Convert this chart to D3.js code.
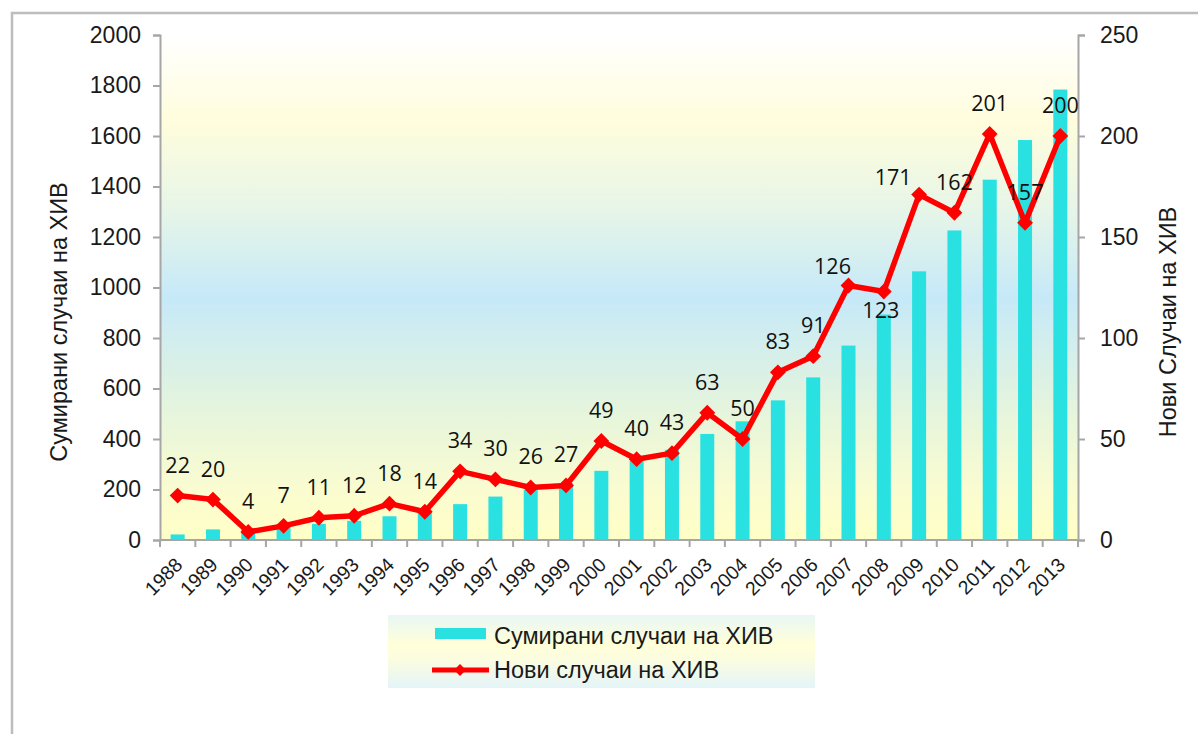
<!DOCTYPE html>
<html><head><meta charset="utf-8">
<script src="https://cdn.jsdelivr.net/npm/d3@7"></script>
<style>html,body{margin:0;padding:0;background:#fff;}svg{display:block;}</style>
</head><body>
<svg id="c" width="1198" height="734"></svg>
<script>
const years = ["1988","1989","1990","1991","1992","1993","1994","1995","1996","1997","1998","1999","2000","2001","2002","2003","2004","2005","2006","2007","2008","2009","2010","2011","2012","2013"];
const cumulative = [22,42,46,53,64,76,94,108,142,172,198,225,274,314,357,420,470,553,644,770,893,1064,1226,1427,1584,1784];
const newCases = [22,20,4,7,11,12,18,14,34,30,26,27,49,40,43,63,50,83,91,126,123,171,162,201,157,200];
const leftTicks = [0,200,400,600,800,1000,1200,1400,1600,1800,2000];
const rightTicks = [0,50,100,150,200,250];
const leftTitle = "Сумирани случаи на ХИВ";
const rightTitle = "Нови Случаи на ХИВ";
const legendItems = ["Сумирани случаи на ХИВ","Нови случаи на ХИВ"];

// label placement tweaks (styling, not data): [dx, dy of baseline relative to point]
const labelTweak = {"2007":[-16,-11],"2008":[-3,26],"2009":[-26,-10]};

const svg = d3.select("#c");
const L=160, R=1078, T=35, B=540;
const font = "'Liberation Sans', Arial, sans-serif";
const dlFont = "'Open Sans', 'DejaVu Sans', sans-serif";
const txt = "#1a1a1a";

// outer frame
svg.append("rect").attr("x",12).attr("y",13).attr("width",1200).attr("height",760)
  .attr("fill","#fff").attr("stroke","#bdbdbd").attr("stroke-width",2.5);

const defs = svg.append("defs");
const g1 = defs.append("linearGradient").attr("id","bg").attr("x1",0).attr("y1",0).attr("x2",0).attr("y2",1);
[[0,"#ffffff"],[0.17,"#fffddc"],[0.35,"#e6f5e8"],[0.52,"#c6e9f8"],[0.75,"#e6f5dc"],[0.9,"#fafcd0"],[1,"#ffffc6"]]
  .forEach(s=>g1.append("stop").attr("offset",s[0]).attr("stop-color",s[1]));
const g2 = defs.append("linearGradient").attr("id","lg").attr("x1",0).attr("y1",0).attr("x2",0).attr("y2",1);
[[0,"#e8f6f6"],[0.4,"#ffffd8"],[0.6,"#fcfde0"],[1,"#e4f4f8"]]
  .forEach(s=>g2.append("stop").attr("offset",s[0]).attr("stop-color",s[1]));

svg.append("rect").attr("x",L).attr("y",T).attr("width",R-L).attr("height",B-T).attr("fill","url(#bg)");

const xc = d3.scaleBand().domain(years).range([L,R]);
const yL = d3.scaleLinear().domain([0,2000]).range([B,T]);
const yR = d3.scaleLinear().domain([0,250]).range([B,T]);
const px = d=>xc(d)+xc.bandwidth()/2;

// bars
svg.append("g").selectAll("rect").data(years).join("rect")
  .attr("x",d=>px(d)-7).attr("width",14)
  .attr("y",(d,i)=>yL(cumulative[i])).attr("height",(d,i)=>B-yL(cumulative[i]))
  .attr("fill","#29e1e1");

// axes
const axisColor="#a6a6a6";
const gl = svg.append("g").attr("transform",`translate(${L},0)`)
  .call(d3.axisLeft(yL).tickValues(leftTicks).tickFormat(d3.format("d")).tickSize(7).tickPadding(12));
const gr = svg.append("g").attr("transform",`translate(${R},0)`)
  .call(d3.axisRight(yR).tickValues(rightTicks).tickFormat(d3.format("d")).tickSize(7).tickPadding(15));
[gl,gr].forEach(g=>{
  g.select(".domain").attr("stroke",axisColor).attr("stroke-width",2);
  g.selectAll(".tick line").attr("stroke",axisColor).attr("stroke-width",2);
  g.selectAll("text").attr("font-family",font).attr("font-size",23).attr("fill",txt);
});
const gb = svg.append("g").attr("transform",`translate(0,${B})`)
  .call(d3.axisBottom(xc).tickSize(0).tickFormat(""));
gb.select(".domain").attr("d",`M${L},0H${R}`).attr("stroke",axisColor).attr("stroke-width",2);
// category boundary ticks
svg.append("g").selectAll("line").data(d3.range(years.length+1)).join("line")
  .attr("x1",i=>L+i*xc.step()).attr("x2",i=>L+i*xc.step())
  .attr("y1",B).attr("y2",B+7).attr("stroke",axisColor).attr("stroke-width",2);
// year labels
svg.append("g").selectAll("text").data(years).join("text")
  .attr("transform",d=>`translate(${px(d)+6},${B+26}) rotate(-45)`)
  .attr("text-anchor","end")
  .attr("font-family",font).attr("font-size",19.5).attr("fill",txt).text(d=>d);

// line
const line = d3.line().x((d,i)=>px(years[i])).y(d=>yR(d));
svg.append("path").datum(newCases).attr("d",line).attr("fill","none")
  .attr("stroke","#ff0000").attr("stroke-width",5.5).attr("stroke-linejoin","round");
const marker = d3.symbol().type(d3.symbolSquare).size(125);
svg.append("g").selectAll("path").data(newCases).join("path")
  .attr("d",marker).attr("transform",(d,i)=>`translate(${px(years[i])},${yR(d)}) rotate(45)`)
  .attr("fill","#ff0000");
// data labels
svg.append("g").selectAll("text").data(newCases).join("text")
  .attr("x",(d,i)=>px(years[i])+(labelTweak[years[i]]?labelTweak[years[i]][0]:0))
  .attr("y",(d,i)=>yR(d)+(labelTweak[years[i]]?labelTweak[years[i]][1]:-23))
  .attr("text-anchor","middle").attr("font-family",dlFont).attr("font-size",21.5).attr("fill","#111")
  .text(d=>d);

// axis titles
svg.append("text").attr("transform",`translate(67,322) rotate(-90)`).attr("text-anchor","middle")
  .attr("font-family",font).attr("font-size",23.5).attr("fill",txt).text(leftTitle);
svg.append("text").attr("transform",`translate(1176,322) rotate(-90)`).attr("text-anchor","middle")
  .attr("font-family",font).attr("font-size",23.5).attr("fill",txt).text(rightTitle);

// legend
svg.append("rect").attr("x",388).attr("y",615).attr("width",427).attr("height",73).attr("fill","url(#lg)");
svg.append("rect").attr("x",435).attr("y",628).attr("width",51).attr("height",11).attr("fill","#29e1e1");
svg.append("line").attr("x1",432).attr("x2",489).attr("y1",670).attr("y2",670).attr("stroke","#ff0000").attr("stroke-width",5);
svg.append("path").attr("d",d3.symbol().type(d3.symbolSquare).size(70)).attr("transform","translate(460,670) rotate(45)").attr("fill","#ff0000");
svg.append("g").selectAll("text").data(legendItems).join("text")
  .attr("x",494).attr("y",(d,i)=>644+i*34)
  .attr("font-family",font).attr("font-size",23.5).attr("fill",txt).text(d=>d);
</script>
</body></html>
